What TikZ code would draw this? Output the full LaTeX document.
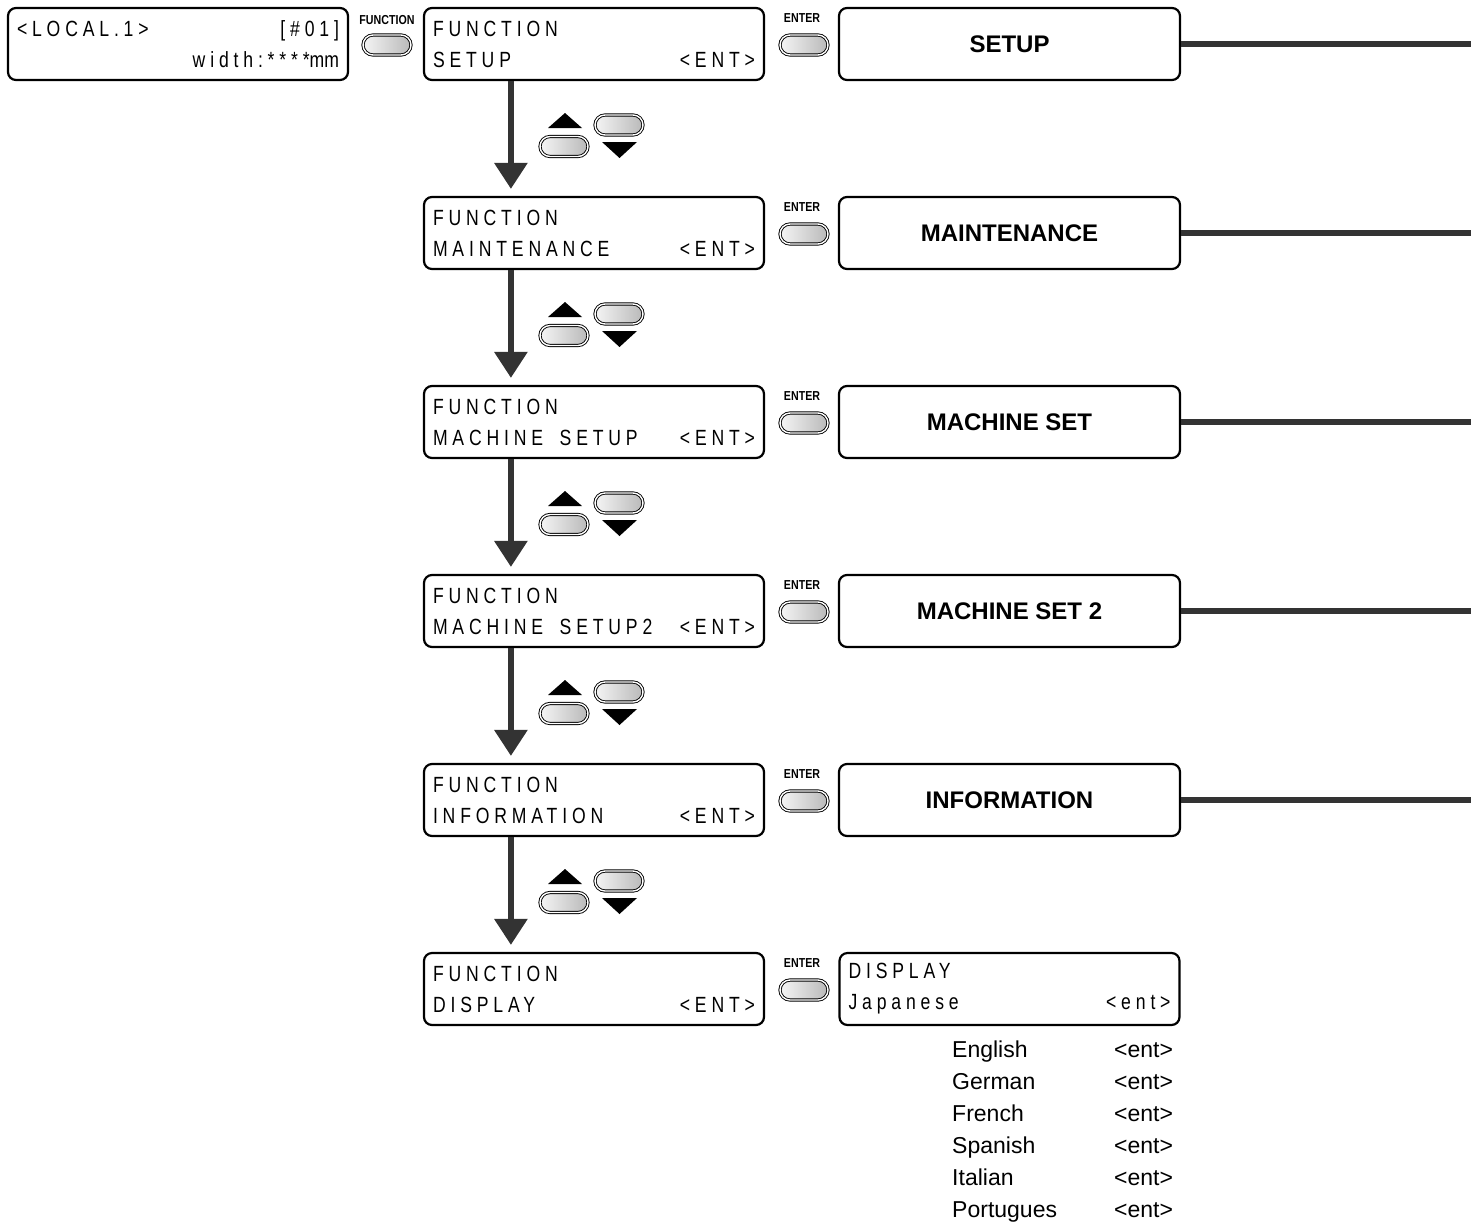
\documentclass[tikz,border=0pt]{standalone}
\usepackage{fontspec}
\setsansfont{Liberation Sans}
\newfontfamily\lcdfont[FakeStretch=0.8,LetterSpace=22]{Liberation Sans}
\newfontfamily\keyfont[FakeStretch=0.82]{Liberation Sans}
\usepackage{xcolor}
\usepackage{tikz}
\usetikzlibrary{arrows.meta,positioning,calc}
\definecolor{inkgray}{gray}{0.2}
\newcommand\lcdfill{\hspace*{0pt plus 1filll}}
\newcommand\lcdspace{\hspace{0.75em}}

\begin{document}
\begin{tikzpicture}[x=1pt, y=-1pt,
    lcdbox/.style={rectangle, rounded corners=8pt, draw, line width=2.2pt,
                   minimum width=340pt, minimum height=72pt, text width=322pt,
                   inner xsep=9pt, inner ysep=0pt, align=left,
                   font=\lcdfont\fontsize{22}{31}\selectfont},
    menubox/.style={rectangle, rounded corners=8pt, draw, line width=2.2pt,
                    minimum width=341pt, minimum height=72pt,
                    font=\sffamily\bfseries\fontsize{24}{28}\selectfont},
    pushkey/.style={rectangle, rounded corners=10pt, draw, line width=0.9pt,
                    double=white, double distance=1.4pt,
                    left color=gray!8, right color=gray!55,
                    minimum width=48pt, minimum height=20pt, inner sep=0pt},
    keylabel/.style={inner sep=0pt, font=\keyfont\bfseries\fontsize{13}{13}\selectfont},
    flowarrow/.style={-{Triangle[width=32pt,length=26pt]}, line width=6pt,
                      draw=inkgray, shorten >=7pt},
    linkline/.style={line width=5.5pt, inkgray},
    langlist/.style={inner sep=0pt, font=\sffamily\fontsize{23}{32}\selectfont}
]
    \useasboundingbox (0,0) rectangle (1471,1224);
    \coordinate (rim) at (1471,0);

    \node[lcdbox] (local) at (178,44)
        {<LOCAL.1>\lcdfill[\#01]\\\lcdfill width:****{\addfontfeature{LetterSpace=0}mm}};
    \node[keylabel] (fnlabel) at (387,20) {FUNCTION};
    \node[pushkey]  (fnkey)   at (387,45) {};

    \node[lcdbox] (fn1) at (594,44)  {FUNCTION\\SETUP\lcdfill<ENT>};
    \node[lcdbox] (fn2) at (594,233) {FUNCTION\\MAINTENANCE\lcdfill<ENT>};
    \node[lcdbox] (fn3) at (594,422) {FUNCTION\\MACHINE\lcdspace SETUP\lcdfill<ENT>};
    \node[lcdbox] (fn4) at (594,611) {FUNCTION\\MACHINE\lcdspace SETUP2\lcdfill<ENT>};
    \node[lcdbox] (fn5) at (594,800) {FUNCTION\\INFORMATION\lcdfill<ENT>};
    \node[lcdbox] (fn6) at (594,989) {FUNCTION\\DISPLAY\lcdfill<ENT>};

    \node[menubox] (setup)    at (1009.5,44)  {SETUP};
    \node[menubox] (maint)    at (1009.5,233) {MAINTENANCE};
    \node[menubox] (machine)  at (1009.5,422) {MACHINE SET};
    \node[menubox] (machine2) at (1009.5,611) {MACHINE SET 2};
    \node[menubox] (info)     at (1009.5,800) {INFORMATION};
    \node[lcdbox]  (display)  at (1009.5,989) {DISPLAY\\Japanese\lcdfill<ent>};

    \node[langlist, anchor=north west] (langs) at (952,1034.6)
        {\begin{tabular}{@{}p{162pt}@{}l@{}}
         English & <ent>\\ German & <ent>\\ French & <ent>\\
         Spanish & <ent>\\ Italian & <ent>\\ Portugues & <ent>
         \end{tabular}};

    % ENTER keys
    \foreach \y [count=\i] in {44,233,...,989} {
        \node[keylabel] (enterlabel\i) at (802,\y-26) {ENTER};
        \node[pushkey]  (enter\i)      at (804,\y+1) {};
    }

    % up / down keys
    \foreach \y [count=\i] in {44,233,...,800} {
        \fill (548,\y+84) -- (582,\y+84) -- (565,\y+69) -- cycle;
        \node[pushkey] (upkey\i)   at (564,\y+102.5) {};
        \node[pushkey] (downkey\i) at (619,\y+81) {};
        \fill (602,\y+98) -- (637,\y+98) -- (619.5,\y+114) -- cycle;
    }

    \draw[flowarrow] ([xshift=88pt]fn1.south west) -- ([xshift=88pt]fn2.north west);
    \draw[flowarrow] ([xshift=88pt]fn2.south west) -- ([xshift=88pt]fn3.north west);
    \draw[flowarrow] ([xshift=88pt]fn3.south west) -- ([xshift=88pt]fn4.north west);
    \draw[flowarrow] ([xshift=88pt]fn4.south west) -- ([xshift=88pt]fn5.north west);
    \draw[flowarrow] ([xshift=88pt]fn5.south west) -- ([xshift=88pt]fn6.north west);

    \draw[linkline] (setup.east)    -- (setup.east -| rim);
    \draw[linkline] (maint.east)    -- (maint.east -| rim);
    \draw[linkline] (machine.east)  -- (machine.east -| rim);
    \draw[linkline] (machine2.east) -- (machine2.east -| rim);
    \draw[linkline] (info.east)     -- (info.east -| rim);
\end{tikzpicture}
\end{document}
